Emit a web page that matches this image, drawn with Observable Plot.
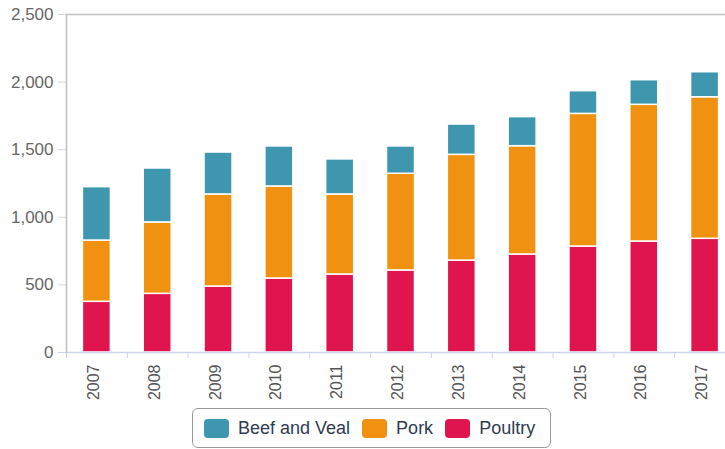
<!DOCTYPE html>
<html>
<head>
<meta charset="utf-8">
<script src="https://cdn.jsdelivr.net/npm/d3@7"></script>
<script src="https://cdn.jsdelivr.net/npm/@observablehq/plot@0.6"></script>
<style>
  html, body { margin: 0; padding: 0; overflow: hidden; background: #fff; }
  body { width: 725px; height: 449px; font-family: "Liberation Sans", Arial, sans-serif; position: relative; }
  #chart svg { max-width: none !important; height: 404px !important; display: block; }
  #legend {
    position: absolute; left: 192px; top: 408px;
    width: 357px; height: 38px;
    border: 1px solid #999; border-radius: 6px;
    display: flex; align-items: center; box-sizing: content-box;
    font-size: 18px; color: #2f3b52;
  }
  #legend .item { display: flex; align-items: center; margin-left: 11px; }
  #legend .item + .item { margin-left: 12px; }
  #legend .sw { width: 25px; height: 19px; border-radius: 4px; margin-right: 9px; }
</style>
</head>
<body>
<div id="chart"></div>
<div id="legend"></div>
<script>
const years   = ["2007","2008","2009","2010","2011","2012","2013","2014","2015","2016","2017"];
const beef    = [395, 399, 310, 296, 259, 202, 224, 215, 168, 182, 185];
const pork    = [453, 528, 681, 681, 592, 715, 782, 801, 981, 1011, 1047];
const poultry = [375, 434, 488, 547, 577, 607, 680, 725, 784, 821, 841];
const seriesNames = ["Beef and Veal", "Pork", "Poultry"];
const seriesColors = ["#3f97af", "#f09112", "#e0144f"];
const yTicks = [0, 500, 1000, 1500, 2000, 2500];

const rows = [];
years.forEach((y, i) => {
  rows.push({year: y, series: "Poultry", value: poultry[i]});
  rows.push({year: y, series: "Pork", value: pork[i]});
  rows.push({year: y, series: "Beef and Veal", value: beef[i]});
});

const W = 735, ML = 66, MR = 0;
const step = (W - ML - MR) / years.length;
const barW = 28;
const inset = (step - barW) / 2;
const fmt = d3.format(",");

const chart = Plot.plot({
  width: W,
  height: 404,
  marginLeft: ML,
  marginRight: MR,
  marginTop: 14,
  marginBottom: 52,
  style: {fontFamily: "'Liberation Sans', Arial, sans-serif", fontSize: "14px", background: "#fff", overflow: "visible", maxWidth: "none"},
  x: {domain: years, padding: 0, round: false, label: null},
  y: {domain: [0, 2500], label: null},
  color: {domain: seriesNames, range: seriesColors},
  marks: [
    Plot.barY(rows, Plot.stackY({
      x: "year", y: "value", fill: "series",
      order: ["Poultry", "Pork", "Beef and Veal"],
      insetLeft: inset, insetRight: inset,
      stroke: "#fff", strokeWidth: 1.5
    })),
    Plot.ruleY([0], {stroke: "#ccd6eb", strokeWidth: 1.5}),
    Plot.ruleY([2500], {stroke: "#c0c0c0", strokeWidth: 1.5}),
    Plot.axisY({ticks: yTicks, tickFormat: d => fmt(d), tickSize: 8, tickPadding: 5, stroke: "#ccd6eb", color: "#666", fontSize: 17}),
    Plot.axisX({text: null, tickSize: 6, dx: -step / 2, stroke: "#ccd6eb"}),
    Plot.axisX({tickSize: 0, tickRotate: -90, tickPadding: 12, dx: -3, color: "#555", fontSize: 16}),
    Plot.frame({anchor: "left", stroke: "#c0c0c0", strokeWidth: 1.5})
  ]
});
document.getElementById("chart").appendChild(chart);

const legend = document.getElementById("legend");
seriesNames.forEach((name, i) => {
  const item = document.createElement("div");
  item.className = "item";
  const sw = document.createElement("span");
  sw.className = "sw";
  sw.style.background = seriesColors[i];
  const t = document.createElement("span");
  t.textContent = name;
  item.appendChild(sw);
  item.appendChild(t);
  legend.appendChild(item);
});
</script>
</body>
</html>
